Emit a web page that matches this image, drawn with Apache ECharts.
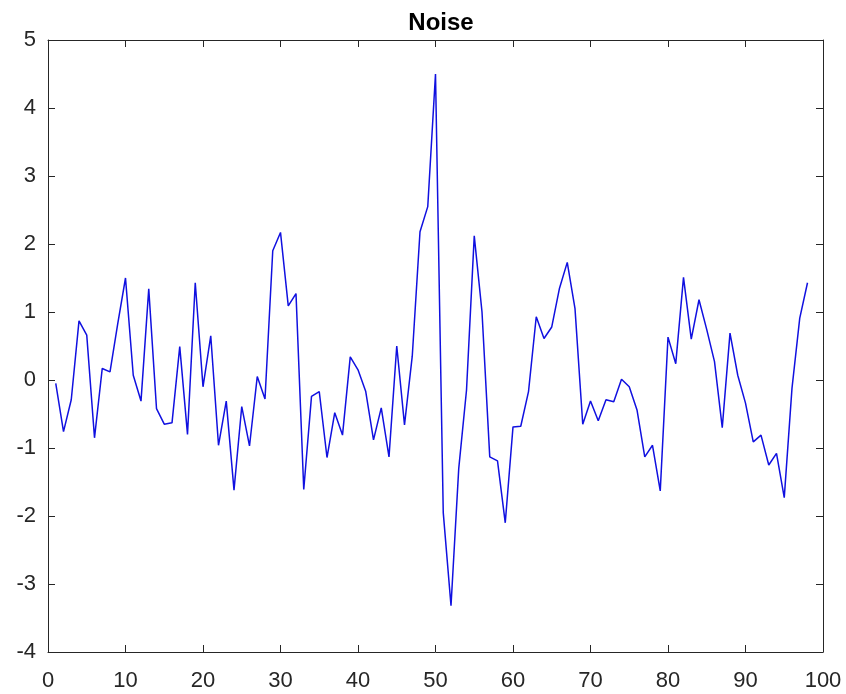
<!DOCTYPE html>
<html>
<head>
<meta charset="utf-8">
<script src="https://cdn.jsdelivr.net/npm/echarts@6/dist/echarts.min.js"></script>
<style>
  html, body { margin: 0; padding: 0; background: #ffffff; }
  #chart { width: 846px; height: 694px; }
</style>
</head>
<body>
<div id="chart"></div>
<script>
// Sample index (1..98) and noise values
const sampleIndex = Array.from({ length: 98 }, (_, i) => i + 1);
const noiseValues = [
  -0.05, -0.76, -0.29, 0.87, 0.66, -0.85, 0.17, 0.12, 0.83, 1.50,
   0.07, -0.31, 1.34, -0.42, -0.65, -0.63, 0.49, -0.80, 1.43, -0.10,
   0.65, -0.96, -0.31, -1.62, -0.39, -0.97, 0.05, -0.28, 1.90, 2.17,
   1.09, 1.27, -1.61, -0.24, -0.17, -1.14, -0.48, -0.81, 0.34, 0.15,
  -0.17, -0.88, -0.41, -1.13, 0.50, -0.66, 0.35, 2.18, 2.55, 4.50,
  -1.95, -3.32, -1.30, -0.15, 2.12, 1.00, -1.13, -1.19, -2.10, -0.69,
  -0.68, -0.17, 0.93, 0.61, 0.78, 1.35, 1.73, 1.05, -0.65, -0.31,
  -0.60, -0.29, -0.32, 0.01, -0.10, -0.44, -1.13, -0.96, -1.63, 0.63,
   0.24, 1.51, 0.60, 1.18, 0.74, 0.27, -0.70, 0.69, 0.07, -0.34,
  -0.91, -0.81, -1.25, -1.08, -1.73, -0.12, 0.91, 1.43
];
const titleText = 'Noise';
const xRange = [0, 100, 10];
const yRange = [-4, 5, 1];

const axisColor = '#262626';
const fontFamily = '"Liberation Sans", Arial, Helvetica, sans-serif';

// Boxed axes: every side gets a line with inward ticks
const boxAxis = (extra) => Object.assign({
  type: 'value',
  axisLine: { show: true, onZero: false, lineStyle: { color: axisColor, width: 1 } },
  axisTick: { show: true, inside: true, length: 7, lineStyle: { color: axisColor, width: 1 } },
  splitLine: { show: false },
  axisLabel: { show: false }
}, extra);

const chart = echarts.init(document.getElementById('chart'), null, { renderer: 'canvas' });
chart.setOption({
  animation: false,
  backgroundColor: '#ffffff',
  title: {
    text: titleText,
    left: 436,
    textAlign: 'center',
    top: 6,
    textStyle: { fontFamily, fontSize: 24, fontWeight: 'bold', color: '#000000' }
  },
  grid: { left: 48, right: 23, top: 40, bottom: 42, containLabel: false },
  xAxis: [
    boxAxis({
      position: 'bottom', min: xRange[0], max: xRange[1], interval: xRange[2],
      axisLabel: { show: true, margin: 18, color: axisColor, fontFamily, fontSize: 22 }
    }),
    boxAxis({ position: 'top', min: xRange[0], max: xRange[1], interval: xRange[2] })
  ],
  yAxis: [
    boxAxis({
      position: 'left', min: yRange[0], max: yRange[1], interval: yRange[2],
      axisLabel: { show: true, margin: 12, color: axisColor, fontFamily, fontSize: 22 }
    }),
    boxAxis({ position: 'right', min: yRange[0], max: yRange[1], interval: yRange[2] })
  ],
  series: [{
    type: 'line',
    xAxisIndex: 0,
    yAxisIndex: 0,
    data: sampleIndex.map((x, i) => [x, noiseValues[i]]),
    showSymbol: false,
    lineStyle: { color: '#1010e0', width: 1.5 },
    itemStyle: { color: '#1010e0' }
  }]
});
</script>
</body>
</html>
